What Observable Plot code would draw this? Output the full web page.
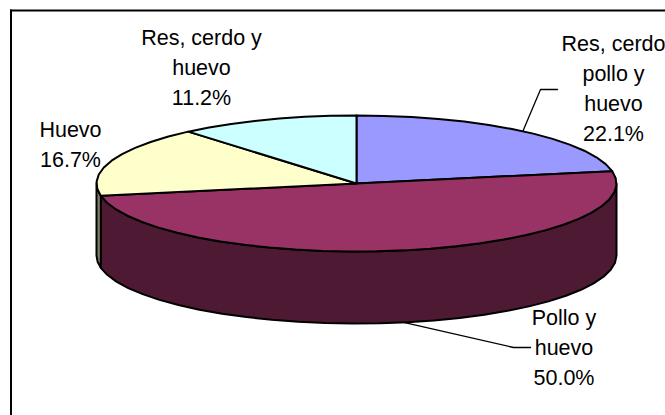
<!DOCTYPE html>
<html><head><meta charset="utf-8">
<style>html,body{margin:0;padding:0;background:#fff;overflow:hidden}svg{display:block}</style>
<script src="https://cdn.jsdelivr.net/npm/d3@7"></script>
<script src="https://cdn.jsdelivr.net/npm/@observablehq/plot@0.6"></script>
</head><body><div id="chart"></div>
<script>
const categories = ["Res, cerdo\npollo y\nhuevo", "Pollo y\nhuevo", "Huevo", "Res, cerdo y\nhuevo"];
const shares = [22.1, 50.0, 16.7, 11.2];
const topColors = ["#9999FF", "#993366", "#FFFFCC", "#CCFFFF"];
const sideColors = ["#4D4D80", "#4D1933", "#808066", "#668080"];

const W = 665, H = 415;
const cx = 356, cy = 183, rx = 260, ry = 68, depth = 72 / 68;
// scales in unit-pie coordinates
const xs = px => (px - cx) / rx, ys = py => (cy - py) / ry;

const total = d3.sum(shares);
let cum = 0;
const slices = shares.map((v, i) => {
  const a0 = cum / total * 2 * Math.PI; cum += v;
  const a1 = cum / total * 2 * Math.PI;
  return {i, a0, a1, mid: (a0 + a1) / 2};
});
const pt = (a, dz = 0) => ({x: Math.sin(a), y: Math.cos(a) - dz});
const arc = (a0, a1, dz = 0) => {
  const n = Math.max(1, Math.round((a1 - a0) / (6 * Math.PI / 180)));
  return d3.range(n + 1).map(k => pt(a0 + (a1 - a0) * k / n, dz));
};
const outline = (pts, fill, stroke = "black", w = 2) =>
  Plot.line(pts, {x: "x", y: "y", fill, stroke, strokeWidth: w, strokeLinejoin: "round", curve: "linear"});

const marks = [];
// chart-area border: only its top and left edges fall inside the picture
marks.push(Plot.ruleX([xs(10.5)], {y1: ys(9.5), y2: ys(H), stroke: "black", strokeWidth: 2}));
marks.push(Plot.ruleY([ys(10)], {x1: xs(10), x2: xs(W), stroke: "black", strokeWidth: 2}));
// walls: visible part of rim, lower half of ellipse
for (const s of slices) {
  const a0 = Math.max(s.a0, Math.PI / 2), a1 = Math.min(s.a1, 3 * Math.PI / 2);
  if (a1 <= a0) continue;
  const top = arc(a0, a1), bot = arc(a0, a1, depth).reverse();
  marks.push(outline([...top, ...bot, top[0]], sideColors[s.i]));
}
// top faces
for (const s of slices) {
  const a = arc(s.a0, s.a1);
  marks.push(outline([{x: 0, y: 0}, ...a, {x: 0, y: 0}], topColors[s.i]));
}
// leader lines
const m0 = pt(slices[0].mid), m1 = pt(slices[1].mid, depth);
marks.push(Plot.line([m0, {x: xs(540), y: ys(89)}, {x: xs(557), y: ys(89)}],
  {x: "x", y: "y", stroke: "black", strokeWidth: 1.3}));
marks.push(Plot.line([m1, {x: xs(513), y: ys(347)}, {x: xs(530), y: ys(347)}],
  {x: "x", y: "y", stroke: "black", strokeWidth: 1.3}));
// labels
const labelAnchors = [[613, 86], [563.5, 345], [70, 141.5], [201, 65]];
const labels = categories.map((c, i) => ({
  text: `${c}\n${shares[i].toFixed(1)}%`,
  x: xs(labelAnchors[i][0]), y: ys(labelAnchors[i][1])
}));
marks.push(Plot.text(labels, {x: "x", y: "y", text: "text", fill: "black",
  fontSize: 21.5, lineHeight: 1.39, lineAnchor: "middle", textAnchor: "middle",
  fontFamily: "Liberation Sans, Arial, sans-serif"}));

const plot = Plot.plot({
  width: W, height: H,
  margin: 0,
  x: {type: "linear", domain: [xs(0), xs(W)], range: [0, W], axis: null},
  y: {type: "linear", domain: [ys(0), ys(H)], range: [0, H], axis: null},
  style: {background: "#fff"},
  marks
});
document.getElementById("chart").append(plot);
</script></body></html>
